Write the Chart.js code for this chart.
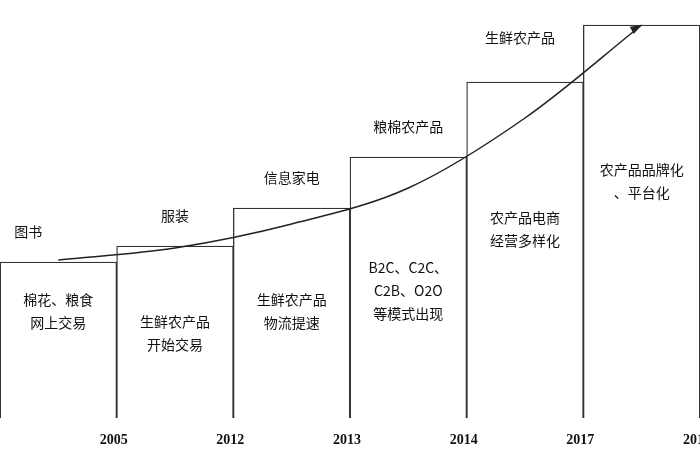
<!DOCTYPE html>
<html>
<head>
<meta charset="utf-8">
<script src="https://cdn.jsdelivr.net/npm/chart.js@4"></script>
<style>body{margin:0;background:#fff}</style>
</head>
<body>
<canvas id="c" width="700" height="470"></canvas>
<script>
const years = ["2005", "2012", "2013", "2014", "2017", "2018"];
const stepHeights = [156, 172, 210, 261, 336, 393];
const trend = [158, 170, 194, 230, 300, 393];
const topLabels = [["图书"], ["服装"], ["信息家电"], ["粮棉农产品"], ["生鲜农产品"], []];
const innerLabels = [
  ["棉花、粮食", "网上交易"],
  ["生鲜农产品", "开始交易"],
  ["生鲜农产品", "物流提速"],
  ["B2C、C2C、", "C2B、O2O", "等模式出现"],
  ["农产品电商", "经营多样化"],
  ["农产品品牌化", "、平台化"]
];
// distance from the step top to the first inner text line (style only)
const innerOffset = [38, 76, 92, 111, 136, 145];

const cjk = '"Noto Sans CJK SC", sans-serif';

const textPlugin = {
  id: "texts",
  afterDatasetsDraw(chart) {
    const ctx = chart.ctx;
    const meta = chart.getDatasetMeta(0);
    const y = chart.scales.y;
    ctx.save();
    ctx.fillStyle = "#111";
    ctx.font = "14px " + cjk;
    ctx.textBaseline = "middle";
    meta.data.forEach((bar, i) => {
      const right = bar.x + bar.width / 2;
      ctx.textAlign = "center";
      topLabels[i].forEach(t => {
        const off = i === 0 ? -30 : (i === 4 ? -5 : 0);
        ctx.fillText(t, bar.x + off, bar.y - (i === 4 ? 44 : 30));
      });
      innerLabels[i].forEach((t, k) => {
        ctx.fillText(t, bar.x, bar.y + innerOffset[i] + k * 23);
      });
      ctx.font = "bold 14px 'Liberation Serif', serif";
      ctx.fillText(years[i], right - 3, y.getPixelForValue(0) + 22);
      ctx.font = "14px " + cjk;
    });
    const lm = chart.getDatasetMeta(1).data;
    const a = lm[lm.length - 2], b = lm[lm.length - 1];
    const ang = Math.atan2(b.y - a.y + 30, b.x - a.x);
    ctx.fillStyle = "#222";
    ctx.beginPath();
    ctx.moveTo(b.x, b.y);
    ctx.lineTo(b.x - 12 * Math.cos(ang - 0.35), b.y - 12 * Math.sin(ang - 0.35));
    ctx.lineTo(b.x - 12 * Math.cos(ang + 0.35), b.y - 12 * Math.sin(ang + 0.35));
    ctx.closePath();
    ctx.fill();
    ctx.restore();
  }
};

new Chart(document.getElementById("c"), {
  data: {
    labels: years,
    datasets: [
      {
        type: "bar",
        data: stepHeights,
        backgroundColor: "#fff",
        borderColor: "#333",
        borderWidth: 1.3,
        barPercentage: 1,
        categoryPercentage: 1,
        order: 2
      },
      {
        type: "line",
        data: trend,
        borderColor: "#222",
        borderWidth: 1.5,
        pointRadius: 0,
        cubicInterpolationMode: "monotone",
        order: 1
      }
    ]
  },
  options: {
    responsive: false,
    animation: false,
    layout: { padding: { top: 0, bottom: 52, left: 0, right: 0 } },
    plugins: { legend: { display: false }, tooltip: { enabled: false } },
    scales: {
      x: { display: false },
      y: { display: false, min: 0, max: 418 }
    }
  },
  plugins: [textPlugin]
});
</script>
</body>
</html>
